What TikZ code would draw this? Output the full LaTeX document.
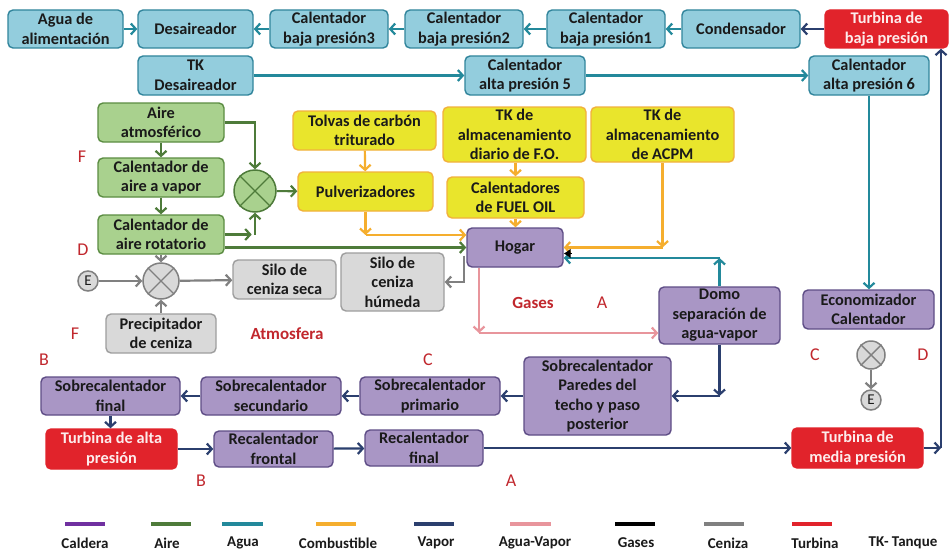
\documentclass[tikz,border=0pt]{standalone}
\usepackage{fontspec}
\setmainfont{Carlito}
\usetikzlibrary{arrows.meta,calc}
\definecolor{tealfill}{HTML}{93CDDD}
\definecolor{tealdraw}{HTML}{31859C}
\definecolor{watc}{HTML}{23899B}
\definecolor{redfill}{HTML}{E1232B}
\definecolor{redtext}{HTML}{FDECEC}
\definecolor{greenfill}{HTML}{A9D18E}
\definecolor{greendraw}{HTML}{5B8C42}
\definecolor{airc}{HTML}{4E7B3A}
\definecolor{yelfill}{HTML}{E9E52C}
\definecolor{yeldraw}{HTML}{F2B13C}
\definecolor{fuelc}{HTML}{F5AE2E}
\definecolor{purfill}{HTML}{A996C5}
\definecolor{purdraw}{HTML}{5E4D86}
\definecolor{grayfill}{HTML}{D9D9D9}
\definecolor{graydraw}{HTML}{9E9E9E}
\definecolor{ashc}{HTML}{808080}
\definecolor{vapc}{HTML}{2B3F6E}
\definecolor{agvc}{HTML}{E8959C}
\definecolor{labc}{HTML}{C1272D}
\definecolor{txt}{HTML}{1A1A1A}
\definecolor{caldc}{HTML}{7030A0}
\newcommand\bxx[7]{\node[#1, minimum width={(#5-#3)*1pt}, minimum height={(#6-#4)*1pt}] (#2) at ({(#3+#5)/2},{(#4+#6)/2}) {#7};}
\begin{document}
\begin{tikzpicture}[x=1pt,y=-1pt,
  font=\fontsize{16.3}{19.5}\selectfont\bfseries,
  box/.style={rounded corners=5pt, line width=1.4pt, align=center, inner xsep=1pt, inner ysep=0pt, text=txt},
  tealbox/.style={box, fill=tealfill, draw=tealdraw},
  redbox/.style={box, fill=redfill, draw=redfill, text=redtext},
  greenbox/.style={box, fill=greenfill, draw=greendraw},
  yelbox/.style={box, fill=yelfill, draw=yeldraw},
  purbox/.style={box, fill=purfill, draw=purdraw},
  graybox/.style={box, fill=grayfill, draw=graydraw},
  ar/.style={line width=2.2pt, -{Straight Barb[length=5pt,width=11pt]}},
  wat/.style={ar, draw=watc},
  vap/.style={ar, draw=vapc},
  air/.style={ar, draw=airc},
  fuel/.style={ar, draw=fuelc},
  ash/.style={ar, draw=ashc},
  agv/.style={ar, draw=agvc},
  mixg/.style={circle, fill=greenfill, draw=airc, line width=1.5pt, inner sep=0pt},
  mixa/.style={circle, fill=grayfill, draw=ashc, line width=1.5pt, inner sep=0pt},
  ecirc/.style={circle, fill=grayfill, draw=ashc, line width=1.5pt, inner sep=0pt, minimum size=20pt, font=\fontsize{15}{16}\selectfont, text=txt},
  lab/.style={font=\fontsize{18}{19}\selectfont, text=labc},
  blab/.style={font=\fontsize{17}{18}\selectfont\bfseries, text=labc},
  leg/.style={font=\fontsize{15}{16}\selectfont\bfseries, text=txt},
  legl/.style={line width=3.5pt}
]
\useasboundingbox[fill=white] (0,0) rectangle (949,551);
% top rows
\bxx{tealbox}{agua}{8}{10}{123}{48}{Agua de\\alimentación}
\bxx{tealbox}{desa}{138}{10}{253}{48}{Desaireador}
\bxx{tealbox}{cb3}{270}{10}{388}{48}{Calentador\\baja presión3}
\bxx{tealbox}{cb2}{405}{10}{523}{48}{Calentador\\baja presión2}
\bxx{tealbox}{cb1}{547}{10}{665}{48}{Calentador\\baja presión1}
\bxx{tealbox}{cond}{682}{10}{800}{48}{Condensador}
\bxx{redbox}{tbp}{825}{10}{948}{48}{Turbina de\\baja presión}
\bxx{tealbox}{tkd}{138}{56}{253}{95}{TK\\Desaireador}
\bxx{tealbox}{cap5}{465}{56}{585}{95}{Calentador\\alta presión 5}
\bxx{tealbox}{cap6}{809}{56}{929}{95}{Calentador\\alta presión 6}
% air
\bxx{greenbox}{aire}{98}{103}{224}{142}{Aire\\atmosférico}
\bxx{greenbox}{cav}{98}{158}{224}{197}{Calentador de\\aire a vapor}
\bxx{greenbox}{car}{98}{215}{224}{254}{Calentador de\\aire rotatorio}
\node[mixg, minimum size=42pt] (gmix) at (255,191) {};
% fuel
\bxx{yelbox}{tolv}{293}{111}{436}{150}{Tolvas de carbón\\triturado}
\bxx{yelbox}{pulv}{298}{172}{433}{211}{Pulverizadores}
\bxx{yelbox}{tkfo}{443}{107}{586}{162}{TK de\\almacenamiento\\diario de F.O.}
\bxx{yelbox}{calfo}{447}{177}{584}{218}{Calentadores\\de FUEL OIL}
\bxx{yelbox}{acpm}{591}{107}{734}{162}{TK de\\almacenamiento\\de ACPM}
% boiler
\bxx{purbox}{hogar}{467}{228}{563}{267}{Hogar}
% ash
\bxx{graybox}{seca}{233}{260}{336}{299}{Silo de\\ceniza seca}
\bxx{graybox}{hum}{341}{253}{444}{311}{Silo de\\ceniza\\húmeda}
\bxx{graybox}{prec}{106}{314}{216}{353}{Precipitador\\de ceniza}
\node[mixa, minimum size=36pt] (amix) at (161,281) {};
\node[ecirc] (e1) at (88,281) {E};
\node[mixa, minimum size=28pt] (amix2) at (871,355) {};
\node[ecirc] (e2) at (871,400) {E};
% steam
\bxx{purbox}{domo}{659}{287}{780}{344}{Domo\\separación de\\agua-vapor}
\bxx{purbox}{eco}{803}{290}{934}{329}{Economizador\\Calentador}
\bxx{purbox}{par}{524}{357}{671}{435}{Sobrecalentador\\Paredes del\\techo y paso\\posterior}
\bxx{purbox}{prim}{360}{377}{500}{415}{Sobrecalentador\\primario}
\bxx{purbox}{sec}{201}{377}{341}{415}{Sobrecalentador\\secundario}
\bxx{purbox}{sfin}{41}{377}{180}{415}{Sobrecalentador\\final}
\bxx{redbox}{tap}{46}{429}{177}{469}{Turbina de alta\\presión}
\bxx{purbox}{rfr}{214}{431}{333}{467}{Recalentador\\frontal}
\bxx{purbox}{rfi}{365}{430}{483}{466}{Recalentador\\final}
\bxx{redbox}{tmp}{792}{428}{923}{468}{Turbina de\\media presión}
% mixer crosses
\foreach \m/\c in {gmix/airc, amix/ashc, amix2/ashc}{
  \draw[\c, line width=1.4pt] (\m.north east) -- (\m.south west) (\m.north west) -- (\m.south east);
}
% water connectors
\draw[wat] (agua) -- (desa);
\draw[wat] (cb3) -- (desa);
\draw[wat] (cb2) -- (cb3);
\draw[wat] (cb1) -- (cb2);
\draw[wat] (cond) -- (cb1);
\draw[vap] (tbp) -- (cond);
\draw[wat] (tkd) -- (cap5);
\draw[wat] (cap5) -- (cap6);
\draw[wat] (cap6.south) -- (cap6.south |- eco.north);
% air connectors
\draw[air] (aire) -- (cav);
\draw[air] (cav) -- (car);
\draw[air] (aire.east) -| (gmix.north);
\draw[air] (car.east) -- ++(27,0);
\draw[air] (car.east -| gmix.south) -- (gmix.south);
\draw[air] (gmix) -- (pulv);
\draw[air] (car.east |- hogar.west) -- (hogar.west);
% fuel connectors
\draw[fuel] (tolv) -- (pulv);
\coordinate (pf) at ([yshift=12.5pt]hogar.west);
\draw[fuel] (pulv.south) -- (pulv.south |- pf);
\draw[fuel] (pulv.south |- pf) -- (pf);
\draw[fuel] (tkfo.south -| calfo.north) -- (calfo.north);
\draw[fuel] (calfo.south) -- (calfo.south |- hogar.north);
\draw[fuel] (acpm.south) -- (acpm.south |- hogar.east);
\draw[fuel] (acpm.south |- hogar.east) -- (hogar.east);
% domo to hogar
\coordinate (dh) at ([yshift=-10.5pt]hogar.east);
\draw[wat] (domo.north) -- (domo.north |- dh);
\draw[wat] (domo.north |- dh) -- (dh);
\draw[black, line width=1pt, -{Latex[length=7pt,width=10pt]}] ([xshift=8pt,yshift=-6pt]hogar.east) -- ([yshift=-6pt]hogar.east);
% hogar to domo (agua-vapor)
\coordinate (hd) at ([yshift=-17.5pt]domo.west);
\draw[agv] ([xshift=-36pt]hogar.south) -- ([xshift=-36pt]hogar.south |- hd);
\draw[agv] ([xshift=-36pt]hogar.south |- hd) -- (hd);
% ash connectors
\draw[ash] ([xshift=-2pt,yshift=-8pt]hogar.west) |- (hum.east);
\draw[ash] (car.south) -- (amix.north);
\draw[ash] (e1) -- (amix);
\draw[ash] (prec) -- (amix);
\draw[ash] (amix) -- (seca);
\draw[ash] (amix2) -- (e2);
% steam connectors
\draw[vap] (domo.south) -- (domo.south |- par.east);
\draw[vap] (domo.south |- par.east) -- (par.east);
\draw[vap] (par) -- (prim);
\draw[vap] (prim) -- (sec);
\draw[vap] (sec) -- (sfin);
\draw[vap] (sfin.south) -- (sfin.south |- tap.north);
\draw[vap] (tap) -- (rfr);
\draw[vap] (rfr) -- (rfi);
\draw[vap] (rfi) -- (tmp);
\coordinate (rt) at (941,448);
\draw[vap] (tmp) -- (rt);
\draw[vap] (rt) -- (rt |- tbp.south);
% labels
\node[lab] (lf1) at (82,157) {F};
\node[lab] (ld1) at (83,250) {D};
\node[lab] (lf2) at (75,334) {F};
\node[blab] (latm) at (287,334) {Atmosfera};
\node[blab] (lgas) at (533,303) {Gases};
\node[lab] (la1) at (602,303) {A};
\node[lab] (lb1) at (44,360) {B};
\node[lab] (lc1) at (428,360) {C};
\node[lab] (lc2) at (815,355) {C};
\node[lab] (ld2) at (923,355) {D};
\node[lab] (lb2) at (201,481) {B};
\node[lab] (la2) at (511,481) {A};
% legend
\draw[legl, caldc] (65,524) -- (105,524);
\draw[legl, airc] (151,524) -- (191,524);
\draw[legl, watc] (222,524) -- (263,524);
\draw[legl, fuelc] (316,524) -- (356,524);
\draw[legl, vapc] (414,524) -- (454,524);
\draw[legl, agvc] (510,524) -- (551,524);
\draw[legl, black] (615,524) -- (655,524);
\draw[legl, ashc] (704,524) -- (744,524);
\draw[legl, redfill] (792,524) -- (832,524);
\node[leg] (g1) at (85,543) {Caldera};
\node[leg] (g2) at (167,543) {Aire};
\node[leg] (g3) at (243,543) {Agua};
\node[leg] (g4) at (338,543) {Combustible};
\node[leg] (g5) at (436,543) {Vapor};
\node[leg] (g6) at (535,543) {Agua-Vapor};
\node[leg] (g7) at (636,543) {Gases};
\node[leg] (g8) at (728,543) {Ceniza};
\node[leg] (g9) at (815,543) {Turbina};
\node[leg] (g10) at (903,543) {TK- Tanque};
\end{tikzpicture}
\end{document}
